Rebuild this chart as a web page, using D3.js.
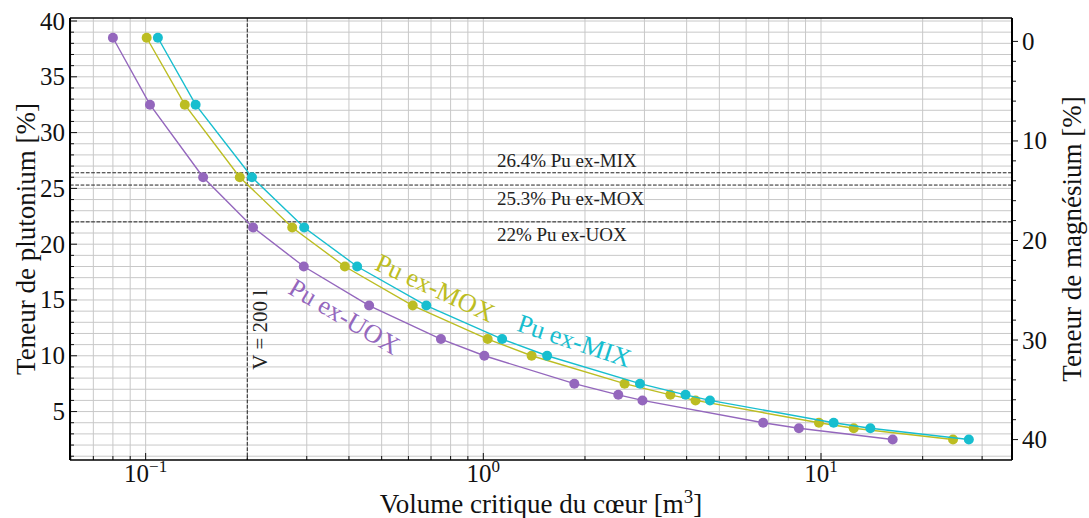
<!DOCTYPE html>
<html><head><meta charset="utf-8">
<script src="https://cdn.jsdelivr.net/npm/d3@7"></script>
<style>
body{margin:0;background:#fff}
</style>
</head><body>
<svg id="chart" width="1089" height="518" font-family="'Liberation Serif','DejaVu Serif',serif"></svg>
<script>
// ---- data ----
const puLevels = [38.5, 32.5, 26, 21.5, 18, 14.5, 11.5, 10, 7.5, 6.5, 6, 4, 3.5, 2.5];
const volUOX = [0.080, 0.103, 0.148, 0.208, 0.294, 0.459, 0.749, 1.007, 1.86, 2.51, 2.96, 6.74, 8.6, 16.3];
const volMOX = [0.1007, 0.1306, 0.190, 0.2717, 0.389, 0.618, 1.03, 1.39, 2.62, 3.58, 4.25, 9.86, 12.5, 24.6];
const volMIX = [0.1087, 0.1406, 0.2065, 0.2948, 0.423, 0.678, 1.137, 1.545, 2.91, 3.97, 4.69, 10.9, 14.0, 27.4];
const seriesNames = ["Pu ex-UOX", "Pu ex-MOX", "Pu ex-MIX"];
const seriesColors = ["#9467bd", "#bcbd22", "#17becf"];
const thresholds = [26.4, 25.3, 22];
const thresholdLabels = ["26.4% Pu ex-MIX", "25.3% Pu ex-MOX", "22% Pu ex-UOX"];
const criticalVolume = 0.2;
const criticalLabel = "V = 200 l";
const leftTicks = [5, 10, 15, 20, 25, 30, 35, 40];
const rightTicks = [0, 10, 20, 30, 40];
const xTickValues = [0.1, 1, 10];
const xTickExponents = ["\u22121", "0", "1"];
const xLabel = "Volume critique du c\u0153ur [m";
const yLabelLeft = "Teneur de plutonium [%]";
const yLabelRight = "Teneur de magn\u00e9sium [%]";

// ---- layout ----
const FONT = "'Liberation Serif','DejaVu Serif',serif";
const L = 70, R = 1012, T = 18, B = 460;
const svg = d3.select("#chart");
const x = d3.scaleLog().domain([Math.pow(10, -1.224), Math.pow(10, 1.5656)]).range([L, R]);
const y = d3.scaleLinear().domain([0.66, 40.27]).range([B, T]);
const y2 = d3.scaleLinear().domain([-2.35, 42.05]).range([T, B]);

const xMinor = [];
for (let e = -2; e <= 1; e++) for (let m = 1; m <= 9; m++) {
  const v = m * Math.pow(10, e);
  if (v >= x.domain()[0] && v <= x.domain()[1]) xMinor.push(v);
}
const yMinor = d3.range(1, 41);

// ---- grid ----
const grid = svg.append("g");
grid.selectAll(".gy").data(yMinor).join("line")
  .attr("x1", L).attr("x2", R).attr("y1", d => y(d)).attr("y2", d => y(d))
  .attr("stroke", "#c8c8c8").attr("stroke-width", 1);
grid.selectAll(".gx").data(xMinor).join("line")
  .attr("x1", d => x(d)).attr("x2", d => x(d)).attr("y1", T).attr("y2", B)
  .attr("stroke", "#c8c8c8").attr("stroke-width", 1);

// ---- reference lines ----
const dash = "3.7,1.6";
svg.append("g").selectAll("line").data(thresholds).join("line")
  .attr("x1", L).attr("x2", R).attr("y1", d => y(d)).attr("y2", d => y(d))
  .attr("stroke", "#222").attr("stroke-width", 1).attr("stroke-dasharray", dash);
svg.append("line").attr("x1", x(criticalVolume)).attr("x2", x(criticalVolume))
  .attr("y1", T).attr("y2", B).attr("stroke", "#222").attr("stroke-width", 1).attr("stroke-dasharray", dash);

const tlOffsets = [0.5, -1.8, -1.7];
svg.append("g").selectAll("text").data(thresholds).join("text")
  .attr("x", x(1.097)).attr("y", (d, i) => y(d + tlOffsets[i]))
  .attr("font-family", FONT).attr("font-size", 19).attr("fill", "#222")
  .text((d, i) => thresholdLabels[i]);

svg.append("text")
  .attr("transform", `translate(${x(criticalVolume) + 20},${y(12.33)}) rotate(-90)`)
  .attr("text-anchor", "middle").attr("font-family", FONT).attr("font-size", 21).attr("fill", "#222")
  .text(criticalLabel);

// ---- series ----
const allVols = [volUOX, volMOX, volMIX];
const line = d3.line().x(d => x(d[0])).y(d => y(d[1])).curve(d3.curveLinear);
allVols.forEach((vols, i) => {
  const pts = vols.map((v, j) => [v, puLevels[j]]);
  svg.append("path").datum(pts).attr("d", line)
    .attr("fill", "none").attr("stroke", seriesColors[i]).attr("stroke-width", 1.4);
  svg.append("g").selectAll("circle").data(pts).join("circle")
    .attr("cx", d => x(d[0])).attr("cy", d => y(d[1])).attr("r", 5)
    .attr("fill", seriesColors[i]);
});

const labelAnchors = [[0.376, 12.84, 30.5], [0.702, 15.38, 24.8], [1.826, 10.59, 18.4]];
seriesNames.forEach((name, i) => {
  const [vx, vy, ang] = labelAnchors[i];
  svg.append("text")
    .attr("transform", `translate(${x(vx)},${y(vy)}) rotate(${ang})`)
    .attr("text-anchor", "middle").attr("font-family", FONT).attr("font-size", 26)
    .attr("fill", seriesColors[i])
    .text(name);
});

// ---- axes / spines ----
const ax = svg.append("g");
ax.selectAll(".lt").data(yMinor).join("line")
  .attr("x1", L).attr("x2", d => L + (leftTicks.includes(d) ? 7 : 4))
  .attr("y1", d => y(d)).attr("y2", d => y(d)).attr("stroke", "#111").attr("stroke-width", 1);
ax.selectAll(".ltl").data(leftTicks).join("text")
  .attr("x", L - 5).attr("y", d => y(d)).attr("dy", "0.34em")
  .attr("text-anchor", "end").attr("font-family", FONT).attr("font-size", 25).attr("fill", "#111").text(d => d);
ax.selectAll(".bt").data(xMinor).join("line")
  .attr("x1", d => x(d)).attr("x2", d => x(d))
  .attr("y1", B).attr("y2", d => B - (xTickValues.some(t => Math.abs(t - d) / t < 1e-6) ? 7 : 4))
  .attr("stroke", "#111").attr("stroke-width", 1);
const xt = ax.selectAll(".btl").data(xTickValues).join("text")
  .attr("x", d => x(d)).attr("y", 482).attr("text-anchor", "middle")
  .attr("font-family", FONT).attr("font-size", 25).attr("fill", "#111");
xt.append("tspan").text("10");
xt.append("tspan").attr("dy", -10).attr("font-size", 17).text((d, i) => xTickExponents[i]);
ax.selectAll(".rt").data(d3.range(0, 42, 2)).join("line")
  .attr("x1", R).attr("x2", d => R + (rightTicks.includes(d) ? 6 : 4))
  .attr("y1", d => y2(d)).attr("y2", d => y2(d)).attr("stroke", "#111").attr("stroke-width", 1);
ax.selectAll(".rtl").data(rightTicks).join("text")
  .attr("x", R + 10).attr("y", d => y2(d)).attr("dy", "0.34em")
  .attr("text-anchor", "start").attr("font-family", FONT).attr("font-size", 25).attr("fill", "#111").text(d => d);

ax.append("line").attr("x1", L).attr("x2", R).attr("y1", T).attr("y2", T).attr("stroke", "#000").attr("stroke-width", 1.5);
ax.append("line").attr("x1", L).attr("x2", R).attr("y1", B).attr("y2", B).attr("stroke", "#000").attr("stroke-width", 1.5);
ax.append("line").attr("x1", L).attr("x2", L).attr("y1", T).attr("y2", B).attr("stroke", "#000").attr("stroke-width", 2);
ax.append("line").attr("x1", R).attr("x2", R).attr("y1", T).attr("y2", B).attr("stroke", "#000").attr("stroke-width", 2);

const xl = svg.append("text").attr("x", (L + R) / 2).attr("y", 513)
  .attr("text-anchor", "middle").attr("font-family", FONT).attr("font-size", 27).attr("fill", "#111");
xl.append("tspan").text(xLabel);
xl.append("tspan").attr("dy", -10).attr("font-size", 19).text("3");
xl.append("tspan").attr("dy", 10).text("]");

svg.append("text").attr("transform", `translate(35,${(T + B) / 2}) rotate(-90)`)
  .attr("text-anchor", "middle").attr("font-family", FONT).attr("font-size", 27).attr("fill", "#111").text(yLabelLeft);
svg.append("text").attr("transform", `translate(1081,${(T + B) / 2}) rotate(-90)`)
  .attr("text-anchor", "middle").attr("font-family", FONT).attr("font-size", 27).attr("fill", "#111").text(yLabelRight);
</script>
</body></html>
